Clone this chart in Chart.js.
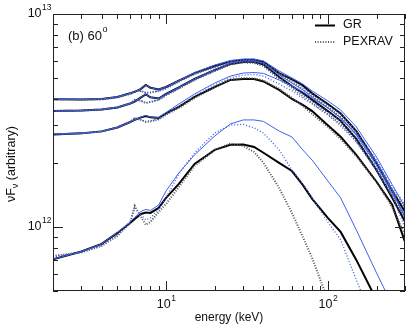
<!DOCTYPE html>
<html>
<head>
<meta charset="utf-8">
<script src="https://cdn.jsdelivr.net/npm/chart.js@4"></script>
<style>
  body { margin: 0; background: #fff; }
  #wrap { width: 409px; height: 327px; }
</style>
</head>
<body>
<div id="wrap"><canvas id="chart" width="409" height="327"></canvas></div>
<script>
// energy grid (keV)
const energy = [2, 3, 4, 5, 6, 6.4, 7, 7.5, 8, 9, 10, 12, 15, 20, 25, 30, 35, 40, 50, 60, 70, 80, 100, 120, 150, 200, 250, 300];

// nuFnu, in units of 1e12 (arbitrary)
const grBlack1 = [3.98, 3.97, 3.99, 4.08, 4.24, 4.31, 4.45, 4.64, 4.50, 4.42, 4.54, 4.87, 5.28, 5.70, 5.98, 6.08, 6.08, 5.95, 5.28, 4.93, 4.62, 4.24, 3.78, 3.41, 2.82, 2.00, 1.48, 1.18];
const grBlue1 = [3.98, 3.97, 3.99, 4.08, 4.24, 4.31, 4.45, 4.64, 4.50, 4.42, 4.54, 4.87, 5.31, 5.76, 6.05, 6.15, 6.15, 6.02, 5.40, 5.01, 4.69, 4.35, 3.91, 3.54, 2.95, 2.13, 1.58, 1.24];
const pexBlack1 = [3.98, 3.97, 3.97, 4.06, 4.21, 4.35, 4.35, 4.26, 4.28, 4.35, 4.47, 4.82, 5.23, 5.64, 5.95, 6.05, 6.02, 5.86, 5.23, 4.79, 4.45, 4.12, 3.66, 3.28, 2.73, 1.98, 1.49, 1.23];
const pexBlue1 = [3.98, 3.97, 3.97, 4.06, 4.21, 4.35, 4.35, 4.26, 4.28, 4.35, 4.47, 4.82, 5.23, 5.64, 5.98, 6.08, 6.05, 5.92, 5.31, 4.90, 4.54, 4.21, 3.74, 3.39, 2.82, 2.06, 1.54, 1.28];

const grBlack2 = [3.50, 3.52, 3.56, 3.64, 3.80, 3.88, 4.06, 4.19, 4.06, 4.01, 4.21, 4.52, 4.95, 5.46, 5.83, 5.95, 5.95, 5.79, 5.06, 4.59, 4.26, 3.95, 3.50, 3.15, 2.59, 1.85, 1.37, 1.06];
const grBlue2 = [3.50, 3.52, 3.56, 3.64, 3.80, 3.88, 4.06, 4.19, 4.06, 4.01, 4.21, 4.52, 4.95, 5.49, 5.89, 6.02, 6.02, 5.89, 5.17, 4.74, 4.40, 4.08, 3.62, 3.25, 2.70, 1.95, 1.44, 1.13];
const pexBlack2 = [3.50, 3.52, 3.56, 3.64, 3.80, 3.95, 3.91, 3.82, 3.86, 3.95, 4.15, 4.47, 4.90, 5.40, 5.79, 5.92, 5.89, 5.70, 4.95, 4.50, 4.12, 3.82, 3.39, 3.05, 2.53, 1.85, 1.40, 1.10];
const pexBlue2 = [3.50, 3.52, 3.56, 3.64, 3.80, 3.95, 3.91, 3.82, 3.86, 3.95, 4.15, 4.47, 4.90, 5.40, 5.83, 5.95, 5.92, 5.76, 5.03, 4.59, 4.21, 3.91, 3.47, 3.15, 2.62, 1.91, 1.44, 1.15];

const grBlack3 = [2.72, 2.75, 2.81, 2.93, 3.11, 3.18, 3.27, 3.32, 3.27, 3.25, 3.41, 3.66, 4.08, 4.54, 4.90, 4.95, 4.95, 4.82, 4.40, 3.99, 3.74, 3.50, 3.00, 2.65, 2.18, 1.63, 1.27, 0.85];
const grBlue3 = [2.73, 2.75, 2.81, 2.93, 3.11, 3.18, 3.28, 3.34, 3.28, 3.27, 3.45, 3.78, 4.21, 4.74, 5.11, 5.28, 5.31, 5.26, 4.90, 4.59, 4.31, 4.03, 3.62, 3.25, 2.73, 2.02, 1.49, 1.10];
const pexBlack3 = [2.72, 2.75, 2.81, 2.93, 3.11, 3.25, 3.18, 3.11, 3.13, 3.20, 3.36, 3.62, 4.03, 4.54, 4.90, 5.01, 4.98, 4.87, 4.45, 4.03, 3.70, 3.39, 2.95, 2.59, 2.15, 1.63, 1.24, 0.92];
const pexBlue3 = [2.72, 2.75, 2.81, 2.93, 3.11, 3.25, 3.18, 3.13, 3.15, 3.21, 3.39, 3.70, 4.12, 4.64, 5.01, 5.17, 5.20, 5.11, 4.69, 4.35, 4.03, 3.78, 3.36, 2.98, 2.51, 1.85, 1.40, 0.99];

const grBlack4 = [0.705, 0.766, 0.832, 0.937, 1.044, 1.090, 1.150, 1.169, 1.163, 1.228, 1.369, 1.592, 1.976, 2.30, 2.43, 2.44, 2.375, 2.23, 2.00, 1.83, 1.575, 1.354, 1.102, 0.947, 0.70, 0.454, 0.328, 0.238];
const grBlue4 = [0.705, 0.766, 0.832, 0.942, 1.055, 1.108, 1.182, 1.208, 1.195, 1.268, 1.476, 1.793, 2.178, 2.674, 3.045, 3.18, 3.18, 3.13, 2.82, 2.645, 2.30, 2.06, 1.644, 1.369, 0.968, 0.608, 0.430, 0.328];
const pexBlack4 = [0.731, 0.759, 0.814, 0.907, 1.044, 1.254, 1.114, 1.022, 1.055, 1.175, 1.282, 1.541, 1.933, 2.30, 2.466, 2.40, 2.25, 2.00, 1.524, 1.163, 0.898, 0.715, 0.454, 0.328, 0.213, 0.111, 0.065, 0.042];
const pexBlue4 = [0.723, 0.763, 0.818, 0.917, 1.055, 1.228, 1.138, 1.079, 1.102, 1.214, 1.369, 1.774, 2.226, 2.763, 3.01, 3.03, 2.92, 2.76, 2.30, 1.85, 1.59, 1.37, 1.055, 0.869, 0.564, 0.328, 0.213, 0.138];

// axis ticks
const xMajor = [10, 100];
const xMinor = [2, 3, 4, 5, 6, 7, 8, 9, 20, 30, 40, 50, 60, 70, 80, 90, 200, 300];
const yMajor = [1, 10];
const yMinor = [0.5, 0.6, 0.7, 0.8, 0.9, 2, 3, 4, 5, 6, 7, 8, 9];

const BLUE = "#3f61ee";
const DOT_GREY = "#555";
const FONT = "'Liberation Sans', Arial, sans-serif";

function series(vals, color, width, dash) {
  return {
    data: energy.map((e, i) => ({ x: e, y: vals[i] })),
    borderColor: color,
    borderWidth: width,
    borderDash: dash || [],
    pointRadius: 0,
    tension: 0,
    fill: false,
  };
}

// first dataset is painted last (on top)
const datasets = [];
[grBlue1, grBlue2, grBlue3, grBlue4].forEach((v) => datasets.push(series(v, BLUE, 1)));
[pexBlue1, pexBlue2, pexBlue3, pexBlue4].forEach((v) => datasets.push(series(v, BLUE, 1.4, [1, 2])));
[pexBlack1, pexBlack2, pexBlack3, pexBlack4].forEach((v) => datasets.push(series(v, DOT_GREY, 2, [1, 1.6])));
[grBlack1, grBlack2, grBlack3, grBlack4].forEach((v) => datasets.push(series(v, "#000", 2)));

function powerLabel(ctx, base, exp, x, y, align) {
  ctx.font = "12.5px " + FONT;
  const w1 = ctx.measureText(base).width;
  ctx.font = "8.5px " + FONT;
  const w2 = ctx.measureText(exp).width;
  let x0 = x;
  if (align === "center") x0 = x - (w1 + w2) / 2;
  if (align === "right") x0 = x - (w1 + w2);
  ctx.textBaseline = "middle";
  ctx.textAlign = "left";
  ctx.font = "12.5px " + FONT;
  ctx.fillText(base, x0, y);
  ctx.font = "8.5px " + FONT;
  ctx.fillText(exp, x0 + w1 + 0.5, y - 6);
}

const framePlugin = {
  id: "frame",
  afterDraw(chart) {
    const ctx = chart.ctx;
    const ca = chart.chartArea;
    const xs = chart.scales.x;
    const ys = chart.scales.y;
    ctx.save();
    ctx.strokeStyle = "#222";
    ctx.lineWidth = 1;
    ctx.strokeRect(ca.left + 0.5, ca.top + 0.5, ca.right - ca.left - 1, ca.bottom - ca.top - 1);

    ctx.beginPath();
    const xt = (v, len) => {
      const px = Math.round(xs.getPixelForValue(v)) + 0.5;
      ctx.moveTo(px, ca.bottom); ctx.lineTo(px, ca.bottom - len);
      ctx.moveTo(px, ca.top); ctx.lineTo(px, ca.top + len);
    };
    const yt = (v, len) => {
      const py = Math.round(ys.getPixelForValue(v)) + 0.5;
      ctx.moveTo(ca.left, py); ctx.lineTo(ca.left + len, py);
      ctx.moveTo(ca.right, py); ctx.lineTo(ca.right - len, py);
    };
    xMajor.forEach((v) => xt(v, 10));
    xMinor.forEach((v) => xt(v, 5));
    yMajor.forEach((v) => yt(v, 10));
    yMinor.forEach((v) => yt(v, 5));
    ctx.stroke();

    ctx.fillStyle = "#111";
    xMajor.forEach((v) => {
      powerLabel(ctx, "10", String(Math.round(Math.log10(v))), xs.getPixelForValue(v), ca.bottom + 14, "center");
    });
    yMajor.forEach((v) => {
      powerLabel(ctx, "10", String(12 + Math.round(Math.log10(v))), ca.left - 2, ys.getPixelForValue(v), "right");
    });

    // axis titles
    ctx.font = "12px " + FONT;
    ctx.textAlign = "center";
    ctx.textBaseline = "middle";
    ctx.fillText("energy (keV)", (ca.left + ca.right) / 2, 318);

    ctx.save();
    ctx.translate(12, 164);
    ctx.rotate(-Math.PI / 2);
    ctx.textAlign = "left";
    ctx.font = "12.5px " + FONT;
    const a = "\u03bdF", c = " (arbitrary)";
    const wa = ctx.measureText(a).width;
    const wc = ctx.measureText(c).width;
    ctx.font = "9px " + FONT;
    const wb = ctx.measureText("\u03bd").width;
    let x0 = -(wa + wb + wc) / 2;
    ctx.font = "12.5px " + FONT;
    ctx.fillText(a, x0, 0);
    ctx.font = "9px " + FONT;
    ctx.fillText("\u03bd", x0 + wa, 4);
    ctx.font = "12.5px " + FONT;
    ctx.fillText(c, x0 + wa + wb, 0);
    ctx.restore();

    // panel label
    ctx.textAlign = "left";
    ctx.font = "13px " + FONT;
    ctx.fillText("(b) 60", 68, 36);
    const w60 = ctx.measureText("(b) 60").width;
    ctx.font = "9px " + FONT;
    ctx.fillText("o", 68 + w60 + 0.5, 30);

    // legend
    ctx.lineWidth = 2;
    ctx.strokeStyle = "#000";
    ctx.beginPath();
    ctx.moveTo(315, 25.5); ctx.lineTo(335, 25.5);
    ctx.stroke();
    ctx.lineWidth = 2;
    ctx.strokeStyle = DOT_GREY;
    ctx.setLineDash([1, 1.6]);
    ctx.beginPath();
    ctx.moveTo(315, 42); ctx.lineTo(335, 42);
    ctx.stroke();
    ctx.setLineDash([]);
    ctx.font = "12.5px " + FONT;
    ctx.fillText("GR", 343, 25);
    ctx.fillText("PEXRAV", 343, 42);
    ctx.restore();
  },
};

new Chart(document.getElementById("chart").getContext("2d"), {
  type: "line",
  data: { datasets: datasets },
  options: {
    responsive: false,
    animation: false,
    layout: { padding: { left: 53, right: 4, top: 14, bottom: 36 } },
    scales: {
      x: { type: "logarithmic", min: 2, max: 300, display: false },
      y: { type: "logarithmic", min: 0.5, max: 10, display: false },
    },
    plugins: { legend: { display: false }, tooltip: { enabled: false } },
  },
  plugins: [framePlugin],
});
</script>
</body>
</html>
